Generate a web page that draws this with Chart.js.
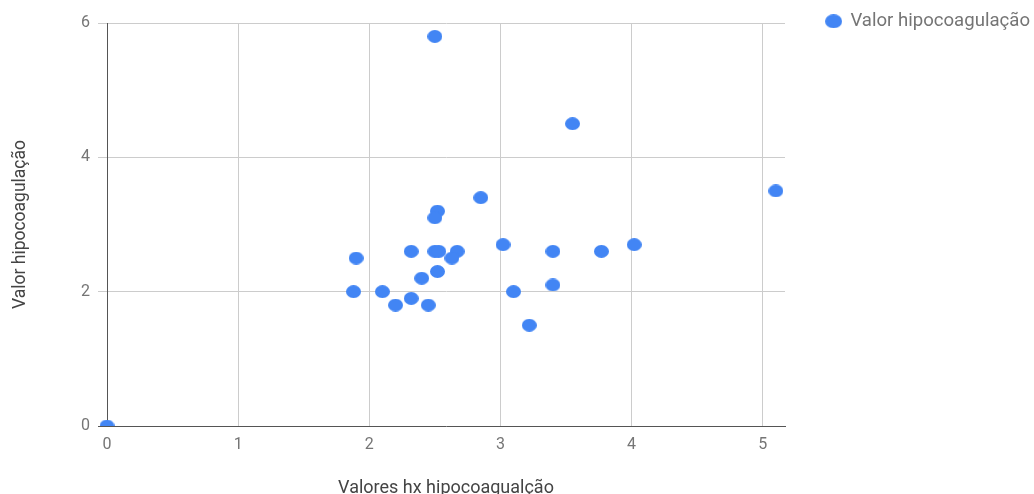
<!DOCTYPE html>
<html>
<head>
<meta charset="utf-8">
<script src="https://cdn.jsdelivr.net/npm/chart.js@4.4.1/dist/chart.umd.min.js"></script>
<style>
  html, body { margin: 0; padding: 0; background: #fff; }
  #wrap { width: 1034px; height: 494px; position: relative; }
</style>
</head>
<body>
<div id="wrap"><canvas id="chart"></canvas></div>
<script>
// values
const seriesName = 'Valor hipocoagulação';
const xValues = [2.5, 3.55, 5.1, 2.85, 2.52, 2.5, 3.02, 4.02, 1.9, 2.32, 2.5, 2.53, 2.67, 2.63,
  3.4, 3.77, 2.52, 2.4, 3.4, 1.88, 2.1, 3.1, 2.32, 2.2, 2.45, 3.22, 0];
const yValues = [5.8, 4.5, 3.5, 3.4, 3.2, 3.1, 2.7, 2.7, 2.5, 2.6, 2.6, 2.6, 2.6, 2.5,
  2.6, 2.6, 2.3, 2.2, 2.1, 2.0, 2.0, 2.0, 1.9, 1.8, 1.8, 1.5, 0];
const xTicks = [0, 1, 2, 3, 4, 5];
const yTicks = [0, 2, 4, 6];

const blue = '#4285f4';

// google style dots are a bit wider than tall
function makeDot(w, h) {
  const c = document.createElement('canvas');
  c.width = w; c.height = h;
  const g = c.getContext('2d');
  g.fillStyle = blue;
  g.beginPath();
  g.ellipse(w / 2, h / 2, w / 2, h / 2, 0, 0, Math.PI * 2);
  g.fill();
  return c;
}
const dot = makeDot(15, 13);
const legendDot = makeDot(17, 14);

const points = xValues.map((x, i) => ({ x: x, y: yValues[i] }));

// legend goes in the empty strip right of the plot, top aligned with the "6"
const legendShift = { x: 257, y: -23 };
const legendOutside = {
  id: 'legendOutside',
  beforeInit(chart) {
    const legend = chart.legend;
    const fit = legend.fit;
    legend.fit = function () {
      fit.call(this);
      this.height = 0;
    };
    legend.draw = function () {
      if (!this.options.display) return;
      this.left += legendShift.x; this.right += legendShift.x;
      this.top += legendShift.y; this.bottom += legendShift.y;
      this._draw();
      this.left -= legendShift.x; this.right -= legendShift.x;
      this.top -= legendShift.y; this.bottom -= legendShift.y;
    };
  }
};

new Chart(document.getElementById('chart'), {
  type: 'scatter',
  data: {
    datasets: [{
      label: seriesName,
      data: points,
      pointStyle: dot,
      pointRadius: 7,
      pointHoverRadius: 7,
      backgroundColor: blue,
      borderColor: blue,
      clip: { left: 10, top: 10, right: 10, bottom: 0 }
    }]
  },
  options: {
    responsive: true,
    maintainAspectRatio: false,
    animation: false,
    layout: { padding: { top: 23, right: 249, bottom: 0, left: 0 } },
    plugins: {
      tooltip: { enabled: false },
      legend: {
        position: 'top',
        align: 'end',
        labels: {
          usePointStyle: true,
          pointStyle: legendDot,
          pointStyleWidth: 15,
          padding: 12,
          color: '#757575',
          font: { family: 'Roboto', size: 18.6 }
        }
      }
    },
    scales: {
      x: {
        type: 'linear',
        min: 0,
        max: 5.17,
        afterFit(scale) { scale.height = 68; },
        afterBuildTicks(scale) { scale.ticks = xTicks.map(v => ({ value: v })); },
        ticks: {
          padding: 9,
          color: '#757575',
          font: { family: 'Roboto', size: 16 }
        },
        grid: {
          drawTicks: false,
          color: ctx => ctx.tick && ctx.tick.value === 0 ? 'rgba(0,0,0,0)' : '#cccccc'
        },
        border: { color: '#555', width: 1 },
        title: {
          display: true,
          text: 'Valores hx hipocoagualção',
          color: '#444',
          font: { family: 'Roboto', size: 18 },
          padding: { top: 0, bottom: -5 }
        }
      },
      y: {
        min: 0,
        max: 6,
        afterFit(scale) { scale.width = 107; },
        afterBuildTicks(scale) { scale.ticks = yTicks.map(v => ({ value: v })); },
        ticks: {
          padding: 8,
          color: '#757575',
          font: { family: 'Roboto', size: 16 }
        },
        grid: {
          tickLength: 9,
          color: ctx => ctx.tick && ctx.tick.value === 0 ? 'rgba(0,0,0,0)' : '#cccccc',
          tickColor: ctx => ctx.tick && ctx.tick.value === 0 ? '#555' : '#cccccc'
        },
        border: { color: '#555', width: 1 },
        title: {
          display: true,
          text: seriesName,
          color: '#444',
          font: { family: 'Roboto', size: 17.5 },
          padding: { top: 10, bottom: 0 }
        }
      }
    }
  },
  plugins: [legendOutside]
});
</script>
</body>
</html>
